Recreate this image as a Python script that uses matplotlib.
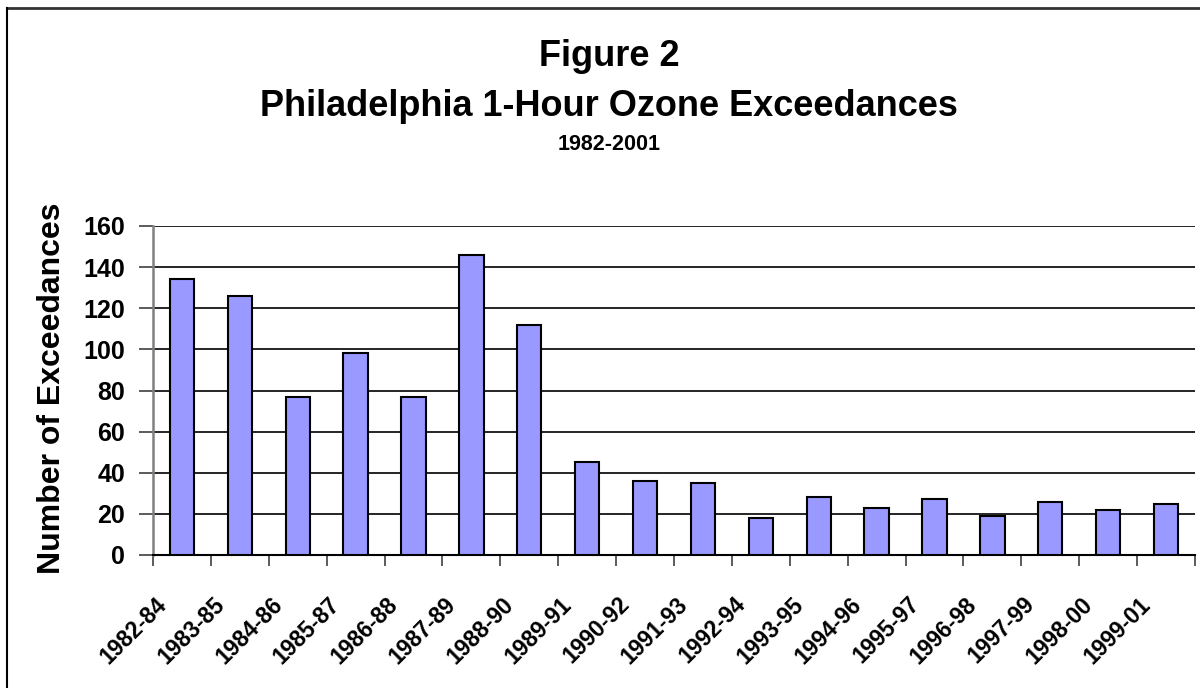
import matplotlib
matplotlib.use("Agg")
import matplotlib.pyplot as plt
import matplotlib.transforms as mtransforms
from matplotlib.lines import Line2D
import numpy as np

categories = ["1982-84", "1983-85", "1984-86", "1985-87", "1986-88", "1987-89",
              "1988-90", "1989-91", "1990-92", "1991-93", "1992-94", "1993-95",
              "1994-96", "1995-97", "1996-98", "1997-99", "1998-00", "1999-01"]
exceedances = [134, 126, 77, 98, 77, 146, 112, 45, 36, 35, 18, 28, 23, 27, 19, 26, 22, 25]
y_ticks = [0, 20, 40, 60, 80, 100, 120, 140, 160]

plt.rcParams['font.family'] = ['Liberation Sans', 'DejaVu Sans']

W, H = 1200, 688
fig = plt.figure(figsize=(12, 6.88), dpi=100)
ax = fig.add_axes([153 / W, 1 - 555 / H, (1195 - 153) / W, (555 - 226) / H])

x = np.arange(len(categories))
ax.bar(x, exceedances, width=0.42, color='#9999FF', edgecolor='black',
       linewidth=1.5, zorder=3)

ax.set_xlim(-0.5, len(categories) - 0.5)
ax.set_ylim(0, 160)
ax.set_yticks(y_ticks)
ax.set_yticklabels([str(v) for v in y_ticks], fontsize=18, fontweight='bold')
ax.yaxis.grid(True, color='black', linewidth=1.2, zorder=0)
ax.set_axisbelow(True)

# x ticks at category boundaries
ax.set_xticks(np.arange(-0.5, len(categories), 1.0), minor=False)
ax.set_xticklabels([])
ax.set_xticks(x, minor=True)
ax.set_xticklabels(categories, minor=True, rotation=45, ha='right', va='center',
                   rotation_mode='anchor', fontsize=16.5, fontweight='bold')
ax.tick_params(axis='x', which='minor', length=0, pad=33)
ax.tick_params(axis='x', which='major', length=8, width=1.2, color='#404040', direction='out')
ax.tick_params(axis='y', length=10, width=1.2, color='#404040', direction='out', pad=10)
offset = mtransforms.ScaledTranslation(-19 / 100, 0, fig.dpi_scale_trans)
for lbl in ax.get_xticklabels(minor=True):
    lbl.set_transform(lbl.get_transform() + offset)

for s in ['top', 'right']:
    ax.spines[s].set_visible(False)
ax.spines['left'].set_color('#808080')
ax.spines['left'].set_linewidth(1.8)
ax.spines['bottom'].set_color('black')
ax.spines['bottom'].set_linewidth(1.5)

fig.text(52 / W, 1 - 388 / H, 'Number of Exceedances', rotation=90, ha='center',
         va='center', fontsize=23, fontweight='bold')

fig.text(609 / W, 1 - 56 / H, 'Figure 2', ha='center', va='center',
         fontsize=26, fontweight='bold')
fig.text(609 / W, 1 - 106 / H, 'Philadelphia 1-Hour Ozone Exceedances', ha='center',
         va='center', fontsize=26, fontweight='bold')
fig.text(609 / W, 1 - 145 / H, '1982-2001', ha='center', va='center',
         fontsize=15.5, fontweight='bold')

# outer chart border (top and left visible)
fig.add_artist(Line2D([6.5 / W, 1.01], [1 - 7.5 / H, 1 - 7.5 / H], color='#333333',
                      linewidth=2, transform=fig.transFigure))
fig.add_artist(Line2D([6.5 / W, 6.5 / W], [1 - 7.5 / H, -0.01], color='black',
                      linewidth=1.5, transform=fig.transFigure))

fig.savefig('out.png', dpi=100)
